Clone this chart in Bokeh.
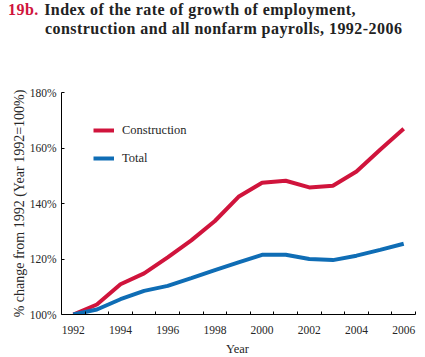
from bokeh.plotting import figure
from bokeh.models import FixedTicker, Legend, LegendItem, Range1d, Div
from bokeh.layouts import column
from bokeh.embed import file_html
from bokeh.resources import INLINE

years = list(range(1992, 2007))
construction = [100.0, 103.6, 110.9, 114.8, 120.6, 126.7, 133.7, 142.4, 147.5,
                148.2, 145.8, 146.4, 151.5, 159.4, 166.9]
total = [100.0, 101.8, 105.5, 108.5, 110.3, 113.1, 116.0, 118.8, 121.5,
         121.5, 120.0, 119.6, 121.2, 123.3, 125.5]
x_tick_years = [1992, 1994, 1996, 1998, 2000, 2002, 2004, 2006]
y_ticks = [100, 120, 140, 160, 180]
y_tick_labels = ["100%", "120%", "140%", "160%", "180%"]
series_names = ["Construction", "Total"]
title_number = "19b."
title_lines = ["Index of the rate of growth of employment,",
               "construction and all nonfarm payrolls, 1992-2006"]
x_title = "Year"
y_title = "% change from 1992 (Year 1992=100%)"

RED = "#D0143C"
BLUE = "#0F6DB5"
SERIF = "Liberation Serif"
TXT = "#262626"

W = 409
TH = 44
FH = 294

title_html = (
    f'<div style="white-space:nowrap">'
    f'<span style="color:{RED};margin-right:1px">{title_number}</span> '
    f'{title_lines[0]}</div>'
    f'<div style="white-space:nowrap;padding-left:37px">{title_lines[1]}</div>'
)
title = Div(text=title_html, width=W, height=TH, margin=(0, 0, 0, 8),
            styles={"font-family": SERIF, "font-weight": "bold",
                    "font-size": "16px", "line-height": "19px",
                    "letter-spacing": "0.45px", "color": "#222222"})

p = figure(width=W, height=FH, output_backend="svg",
           toolbar_location=None,
           x_range=Range1d(1991.5, 2006.5), y_range=Range1d(100, 180),
           min_border_left=52, min_border_right=2, min_border_top=48,
           min_border_bottom=24)
p.margin = (0, 0, 0, 8)
p.outline_line_color = None
p.xgrid.grid_line_color = None
p.ygrid.grid_line_color = None

r1 = p.line(years, construction, line_color=RED, line_width=4)
r2 = p.line(years, total, line_color=BLUE, line_width=4)

xa = p.xaxis[0]
xa.ticker = FixedTicker(ticks=x_tick_years,
                        minor_ticks=[y + 0.5 for y in range(1992, 2007)])
xa.major_tick_line_color = None
xa.minor_tick_in = 3
xa.minor_tick_out = 0
xa.minor_tick_line_color = "black"
xa.axis_line_color = "black"
xa.major_label_text_font = SERIF
xa.major_label_text_font_size = "11.5px"
xa.major_label_text_color = TXT
xa.major_label_standoff = 5

ya = p.yaxis[0]
ya.ticker = FixedTicker(ticks=y_ticks)
ya.major_label_overrides = {tk: lb for tk, lb in zip(y_ticks, y_tick_labels)}
ya.major_tick_in = 3
ya.major_tick_out = 0
ya.minor_tick_line_color = None
ya.axis_line_color = "black"
ya.major_label_text_font = SERIF
ya.major_label_text_font_size = "11.5px"
ya.major_label_text_color = TXT
ya.major_label_standoff = 5
ya.axis_label = y_title
ya.axis_label_text_font = SERIF
ya.axis_label_text_font_size = "14px"
ya.axis_label_text_font_style = "normal"
ya.axis_label_text_color = TXT
ya.axis_label_standoff = 0

legend = Legend(items=[LegendItem(label=series_names[0], renderers=[r1]),
                       LegendItem(label=series_names[1], renderers=[r2])],
                location=(32, 146), padding=0, margin=0, spacing=8,
                glyph_width=21, glyph_height=20, label_height=20,
                label_standoff=8, border_line_color=None,
                background_fill_alpha=0,
                label_text_font=SERIF, label_text_font_size="12.5px",
                label_text_color=TXT)
p.add_layout(legend)

year_label = Div(text=x_title, width=355, height=16, margin=(0, 0, 0, 60),
                 styles={"font-family": SERIF, "font-size": "12.5px",
                         "line-height": "22px", "text-align": "center",
                         "color": TXT})

layout = column(title, p, year_label, spacing=0)
open("out.html", "w").write(file_html(layout, INLINE))
